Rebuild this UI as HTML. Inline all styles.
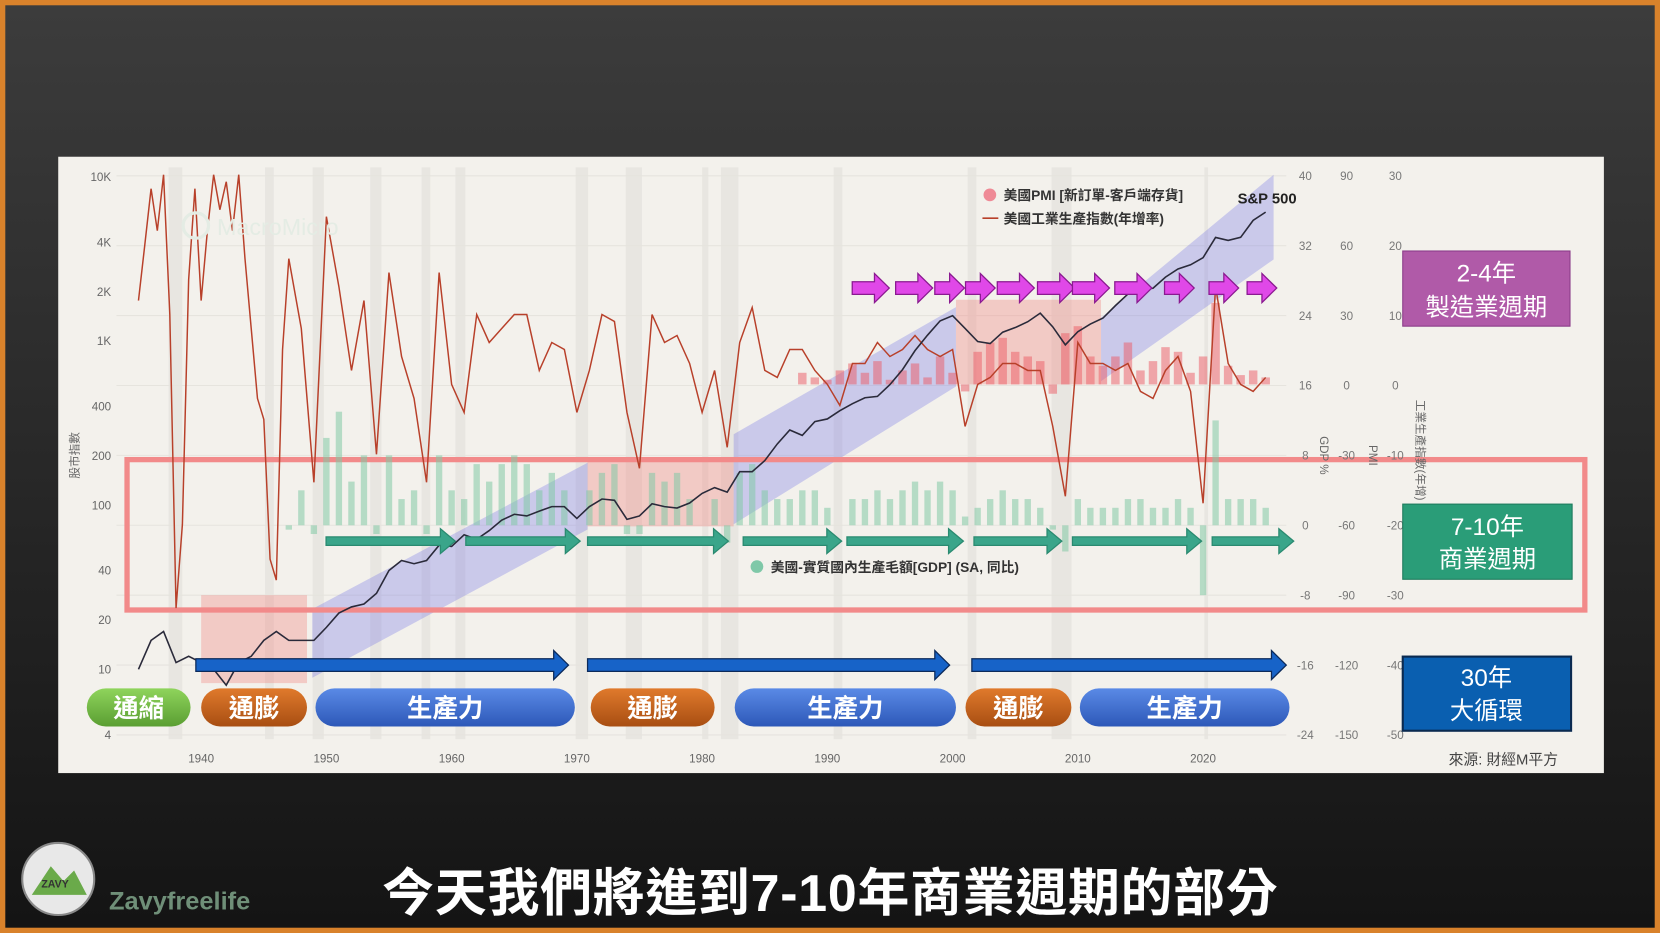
<!DOCTYPE html>
<html><head><meta charset="utf-8">
<style>
html,body{margin:0;padding:0;width:1660px;height:933px;overflow:hidden;background:#222;}
svg{display:block;font-family:"Liberation Sans","Noto Sans CJK TC",sans-serif;}
</style></head>
<body>
<svg id="root" width="1660" height="933" viewBox="0 0 1568 881" preserveAspectRatio="none">
<defs>
<linearGradient id="bg" x1="0" y1="0" x2="0" y2="1"><stop offset="0" stop-color="#3c3c3c"/><stop offset="1" stop-color="#141414"/></linearGradient>
<linearGradient id="pg" x1="0" y1="0" x2="0" y2="1"><stop offset="0" stop-color="#8fd45c"/><stop offset="1" stop-color="#5a9e32"/></linearGradient>
<linearGradient id="po" x1="0" y1="0" x2="0" y2="1"><stop offset="0" stop-color="#e07a2c"/><stop offset="1" stop-color="#a84e12"/></linearGradient>
<linearGradient id="pb" x1="0" y1="0" x2="0" y2="1"><stop offset="0" stop-color="#5a8ae6"/><stop offset="1" stop-color="#2d58b8"/></linearGradient>
</defs>
<rect x="0" y="0" width="1568" height="881" fill="#d9822b"/>
<rect x="5" y="5" width="1558" height="871" fill="url(#bg)"/>
<rect x="55" y="148" width="1460" height="582" fill="#f3f1ec"/>
<g id="rec"></g>
<g id="grid"></g>
<g id="shapes"></g>
<g id="gdp"></g>
<g id="pmi"></g>
<g id="ip"></g>
<g id="spx"></g>
<g id="arrows"></g>
<g id="axes"></g>
<g id="labels"></g>
</svg>
<script>
const NS="http://www.w3.org/2000/svg";
function mk(tag,attrs,parent,text){const e=document.createElementNS(NS,tag);for(const k in attrs)e.setAttribute(k,attrs[k]);if(text!==undefined)e.textContent=text;document.getElementById(parent)?document.getElementById(parent).appendChild(e):parent.appendChild(e);return e;}

const spxYears=[1935,1936,1937,1938,1939,1940,1941,1942,1943,1944,1945,1946,1947,1948,1949,1950,1951,1952,1953,1954,1955,1956,1957,1958,1959,1960,1961,1962,1963,1964,1965,1966,1967,1968,1969,1970,1971,1972,1973,1974,1975,1976,1977,1978,1979,1980,1981,1982,1983,1984,1985,1986,1987,1988,1989,1990,1991,1992,1993,1994,1995,1996,1997,1998,1999,2000,2001,2002,2003,2004,2005,2006,2007,2008,2009,2010,2011,2012,2013,2014,2015,2016,2017,2018,2019,2020,2021,2022,2023,2024,2025];
const spxValues=[10,15,17,11,12,11,10,8,11,12,15,17,15,15,15,18,22,24,25,29,40,46,44,46,57,56,66,62,70,81,88,86,92,98,98,83,98,109,107,82,86,102,98,96,103,118,128,120,160,160,187,236,287,266,323,335,376,415,451,460,542,670,873,1085,1327,1427,1194,993,965,1131,1207,1310,1477,1220,948,1140,1268,1379,1643,1931,2061,2094,2449,2746,2913,3218,4273,4100,4284,5430,6100];
const ipYears=[1935,1935.5,1936,1936.5,1937,1937.5,1938,1938.5,1939,1939.5,1940,1940.5,1941,1941.5,1942,1942.5,1943,1943.5,1944,1944.5,1945,1945.5,1946,1946.5,1947,1948,1949,1950,1951,1952,1953,1954,1955,1956,1957,1958,1959,1960,1961,1962,1963,1964,1965,1966,1967,1968,1969,1970,1971,1972,1973,1974,1975,1976,1977,1978,1979,1980,1981,1982,1983,1984,1985,1986,1987,1988,1989,1990,1991,1992,1993,1994,1995,1996,1997,1998,1999,2000,2001,2002,2003,2004,2005,2006,2007,2008,2009,2010,2011,2012,2013,2014,2015,2016,2017,2018,2019,2020,2021,2022,2023,2024,2025];
const ipValues=[12,20,28,22,30,10,-32,-20,15,28,12,22,30,25,29,22,30,18,8,-2,-5,-25,-28,5,18,8,-14,24,14,2,12,-10,16,4,-2,-14,16,0,-4,10,6,8,10,10,2,6,5,-4,2,10,9,-4,-12,10,6,7,3,-4,2,-9,6,11,2,1,5,5,2,0,-3,3,3,6,4,5,7,5,4,5,-6,0,1,3,3,2,2,-6,-16,6,3,3,2,3,-1,-2,2,4,-1,-17,14,3,0,-1,1];
const gdpYears=[1947,1948,1949,1950,1951,1952,1953,1954,1955,1956,1957,1958,1959,1960,1961,1962,1963,1964,1965,1966,1967,1968,1969,1970,1971,1972,1973,1974,1975,1976,1977,1978,1979,1980,1981,1982,1983,1984,1985,1986,1987,1988,1989,1990,1991,1992,1993,1994,1995,1996,1997,1998,1999,2000,2001,2002,2003,2004,2005,2006,2007,2008,2009,2010,2011,2012,2013,2014,2015,2016,2017,2018,2019,2020,2021,2022,2023,2024,2025];
const gdpValues=[-0.5,4,-1,10,13,5,8,-1,8,3,4,-1,8,4,3,7,5,7,8,7,4,6,4,0,4,6,7,-1,-1,6,5,6,3,0,3,-2,6,7,4,3,3,4,4,2,0,3,3,4,3,4,5,4,5,4,1,2,3,4,3,3,2,-0.5,-3,3,2,2,2,3,3,2,2,3,2,-8,12,3,3,3,2];
const pmiYears=[1988,1989,1990,1991,1992,1993,1994,1995,1996,1997,1998,1999,2000,2001,2002,2003,2004,2005,2006,2007,2008,2009,2010,2011,2012,2013,2014,2015,2016,2017,2018,2019,2020,2021,2022,2023,2024,2025];
const pmiValues=[5,3,2,6,9,5,10,2,6,9,3,12,5,-3,14,18,20,14,12,10,-4,22,25,12,8,12,18,6,10,16,14,5,12,35,8,4,6,3];
const yearTicks=[1940,1950,1960,1970,1980,1990,2000,2010,2020];
const leftTicks=["10K","4K","2K","1K","400","200","100","40","20","10","4"];
const leftTickVals=[10000,4000,2000,1000,400,200,100,40,20,10,4];
const gdpTicks=[40,32,24,16,8,0,-8,-16,-24];
const pmiTicks=[90,60,30,0,-30,-60,-90,-120,-150];
const ipTicks=[30,20,10,0,-10,-20,-30,-40,-50];
const recessions=[[1937.4,1938.5],[1945.1,1945.8],[1948.9,1949.8],[1953.5,1954.4],[1957.6,1958.3],[1960.3,1961.1],[1969.9,1970.9],[1973.9,1975.2],[1980,1980.5],[1981.5,1982.9],[1990.5,1991.2],[2001.2,2001.9],[2007.9,2009.5],[2020.1,2020.4]];

const X=y=>190+(y-1940)*11.83;
const YL=v=>632-(Math.log10(v)-1)*155;
const YG=v=>496-v*8.25;
const YP=v=>363-v*2.2;
const YI=v=>363-v*6.6;

recessions.forEach(r=>{const e=mk('rect',{x:X(r[0]),y:158,width:X(r[1])-X(r[0]),height:540,fill:'rgba(0,0,0,0.045)'},'rec');

});
gdpTicks.forEach(t=>{const e=mk('line',{x1:110,x2:1215,y1:YG(t),y2:YG(t),stroke:'#e6e4de','stroke-width':1},'grid');

});
const S=document.getElementById('shapes');
['190,562 290,562 290,645 190,645','555,435 693,435 693,497 555,497','903,283 1040,283 1040,363 903,363'].forEach(p=>{const e=mk('polygon',{points:p,fill:'rgba(240,130,125,0.35)'},S);

});
['295,575 555,437 555,500 295,640','693,410 903,290 903,365 693,495','1040,300 1203,165 1203,245 1040,360'].forEach(p=>{const e=mk('polygon',{points:p,fill:'rgba(110,110,230,0.3)'},S);

});
const box=mk('rect',{x:120,y:434,width:1377,height:142,fill:'none',stroke:'#f28a8a','stroke-width':5},S);



gdpYears.forEach((y,i)=>{const v=gdpValues[i];const y0=YG(0),y1=YG(v);const e=mk('rect',{x:X(y)-3,y:Math.min(y0,y1),width:6,height:Math.abs(y1-y0),fill:'rgba(130,200,165,0.55)'},'gdp');

});
pmiYears.forEach((y,i)=>{const v=pmiValues[i];const y0=YP(0),y1=YP(v);const e=mk('rect',{x:X(y)-4,y:Math.min(y0,y1),width:8,height:Math.abs(y1-y0),fill:'rgba(235,90,100,0.5)'},'pmi');

});
let d=ipYears.map((y,i)=>(i?'L':'M')+X(y).toFixed(1)+','+YI(Math.max(-32,Math.min(30,ipValues[i]))).toFixed(1)).join(' ');
let e=mk('path',{d:d,fill:'none',stroke:'#b8402a','stroke-width':1.4},'ip');


d=spxYears.map((y,i)=>(i?'L':'M')+X(y).toFixed(1)+','+YL(spxValues[i]).toFixed(1)).join(' ');
e=mk('path',{d:d,fill:'none',stroke:'#2a2a3a','stroke-width':1.5},'spx');



yearTicks.forEach(t=>{const e=mk('text',{x:X(t),y:720,'font-size':11,fill:'#666','text-anchor':'middle'},'axes',t);

});
leftTicks.forEach((t,i)=>{const e=mk('text',{x:105,y:YL(leftTickVals[i])+4,'font-size':11,fill:'#666','text-anchor':'end'},'axes',t);

});
gdpTicks.forEach(t=>{const e=mk('text',{x:1233,y:YG(t)+4,'font-size':11,fill:'#777','text-anchor':'middle'},'axes',t);

});
pmiTicks.forEach((t,i)=>{const e=mk('text',{x:1272,y:YG(gdpTicks[i])+4,'font-size':11,fill:'#777','text-anchor':'middle'},'axes',t);

});
ipTicks.forEach((t,i)=>{const e=mk('text',{x:1318,y:YG(gdpTicks[i])+4,'font-size':11,fill:'#777','text-anchor':'middle'},'axes',t);

});

function arrow(x1,x2,y,h,head,fill,stroke,name){const s=h/2,H=head;const p=`${x1},${y-s} ${x2-H},${y-s} ${x2-H},${y-s-H*0.55} ${x2},${y} ${x2-H},${y+s+H*0.55} ${x2-H},${y+s} ${x1},${y+s}`;const e=mk('polygon',{points:p,fill:fill,stroke:stroke,'stroke-width':1.2},'arrows');

}
[[308,430],[440,548],[555,688],[702,795],[800,910],[920,1003],[1013,1135],[1145,1222]].forEach(a=>arrow(a[0],a[1],511,8,14,'#3aa58a','#2a8a70','business-cycle-arrow'));
[[185,537],[555,897],[918,1215]].forEach(a=>arrow(a[0],a[1],628,12,14,'#1763c8','#0c2a5a','long-cycle-arrow'));
[805,846,883,912,942,980,1013,1053,1100,1142,1178].forEach(x=>arrow(x,x+(x<1100&&x!==883&&x!==912?35:28),272,12,14,'#e048e8','#8a1a90','manufacturing-cycle-arrow'));

const L=document.getElementById('labels');
[[82,180,'通縮','url(#pg)'],[190,290,'通膨','url(#po)'],[298,543,'生產力','url(#pb)'],[558,675,'通膨','url(#po)'],[694,903,'生產力','url(#pb)'],[912,1012,'通膨','url(#po)'],[1020,1218,'生產力','url(#pb)']].forEach(p=>{
const r=mk('rect',{x:p[0],y:650,width:p[1]-p[0],height:36,rx:18,fill:p[3]},L);


const t=mk('text',{x:(p[0]+p[1])/2,y:677,'font-size':24,fill:'#fff','text-anchor':'middle','font-weight':'bold'},L,p[2]);

});
</script>
<svg style="position:absolute;left:0;top:0" width="1660" height="933" viewBox="0 0 1568 881" preserveAspectRatio="none">
<g font-family="Liberation Sans,Noto Sans CJK TC,sans-serif">
<circle cx="935" cy="184" r="6" fill="#ef8a96"/>
<text x="948" y="189" font-size="13" font-weight="bold" fill="#333">美國PMI [新訂單-客戶端存貨]</text>
<line x1="928" y1="206" x2="943" y2="206" stroke="#b8402a" stroke-width="1.5"/>
<text x="948" y="211" font-size="13" font-weight="bold" fill="#333">美國工業生產指數(年增率)</text>
<text x="1169" y="192" font-size="14" font-weight="bold" fill="#222">S&amp;P 500</text>
<circle cx="715" cy="535" r="6" fill="#7fc8a8"/>
<text x="728" y="540" font-size="13" font-weight="bold" fill="#333">美國-實質國內生產毛額[GDP] (SA, 同比)</text>
<text x="1420" y="722" font-size="14" fill="#444" text-anchor="middle">來源: 財經M平方</text>
<text x="74" y="430" font-size="11" fill="#666" transform="rotate(-90 74 430)" text-anchor="middle">股市指數</text>
<text x="1247" y="430" font-size="11" fill="#666" transform="rotate(90 1247 430)" text-anchor="middle">GDP %</text>
<text x="1293" y="430" font-size="11" fill="#666" transform="rotate(90 1293 430)" text-anchor="middle">PMI</text>
<text x="1338" y="425" font-size="11" fill="#666" transform="rotate(90 1338 425)" text-anchor="middle">工業生產指數(年增)</text>
<circle cx="185" cy="213" r="12" fill="none" stroke="#e4ece4" stroke-width="3"/>
<text x="205" y="222" font-size="22" fill="#e4ece4">MacroMicro</text>
<rect x="1325" y="237" width="158" height="71" fill="#b05aa8" stroke="#8a3a88"/>
<text x="1404" y="266" font-size="23" fill="#fff" text-anchor="middle">2-4年</text>
<text x="1404" y="298" font-size="23" fill="#fff" text-anchor="middle">製造業週期</text>
<rect x="1325" y="476" width="160" height="71" fill="#2a9d78" stroke="#1c7a5c"/>
<text x="1405" y="505" font-size="23" fill="#fff" text-anchor="middle">7-10年</text>
<text x="1405" y="536" font-size="23" fill="#fff" text-anchor="middle">商業週期</text>
<rect x="1325" y="620" width="159" height="70" fill="#0a5fb0" stroke="#0a2a50" stroke-width="2"/>
<text x="1404" y="648" font-size="23" fill="#fff" text-anchor="middle">30年</text>
<text x="1404" y="679" font-size="23" fill="#fff" text-anchor="middle">大循環</text>
<circle cx="55" cy="830" r="34" fill="#e8e8e8" stroke="#888" stroke-width="2"/>
<path d="M30,845 L48,818 L60,832 L70,822 L82,845 Z" fill="#6aaa4a"/>
<text x="52" y="838" font-size="10" font-weight="bold" fill="#333" text-anchor="middle">ZAVY</text>
<text x="103" y="859" font-size="24" font-weight="bold" fill="#6f8f78">Zavyfreelife</text>
<text x="784" y="860" font-size="49" font-weight="bold" fill="#fff" text-anchor="middle" textLength="846">今天我們將進到7-10年商業週期的部分</text>
</g>
</svg>
</body></html>
